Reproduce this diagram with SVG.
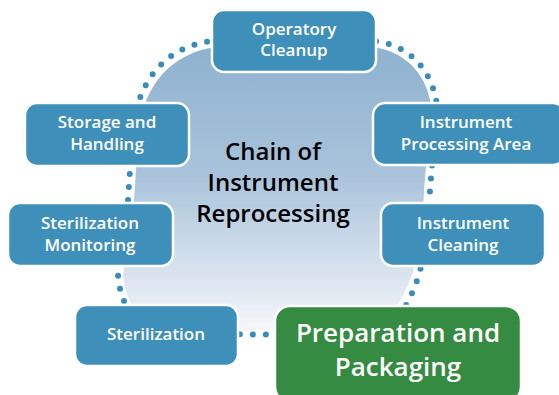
<svg xmlns="http://www.w3.org/2000/svg" width="559" height="395" viewBox="0 0 559 395">
<defs>
<linearGradient id="blobGrad" x1="0" y1="0" x2="0" y2="1">
<stop offset="0" stop-color="#8eb2cf"/>
<stop offset="0.45" stop-color="#a9c3db"/>
<stop offset="1" stop-color="#f4f6fa"/>
</linearGradient>
<style>
.box{fill:#3e8fba;stroke:#ffffff;stroke-width:2.5}
.green{fill:#358b41;stroke:#ffffff;stroke-width:2.5}
.lbl{font-family:"Open Sans","Liberation Sans",sans-serif;font-weight:600;font-size:17px;fill:#ffffff;text-anchor:middle}
.big{font-family:"Open Sans","Liberation Sans",sans-serif;font-weight:600;font-size:26px;fill:#ffffff;text-anchor:middle}
.title{font-family:"Open Sans","Liberation Sans",sans-serif;font-weight:600;font-size:24px;fill:#000000;text-anchor:middle}
.dots{fill:none;stroke:#3a8cba;stroke-width:6;stroke-linecap:round;stroke-dasharray:0 13}
</style>
</defs>
<g id="background">
<path d="M134,200 L138,140 C141,82 175,53 215,47 L372,47 C405,51 426,73 431,105 L424,190 C422,250 414,285 390,315 L380,330 L160,330 C135,318 125,298 123,275 Z" fill="url(#blobGrad)"/>
</g>
<g id="connectors">
<path class="dots" d="M128,200 L132,140 C135,76 170,46 212,41 L374,41 C410,45 432,70 437,105 L430,190 C428,250 420,285 400,315 L385,335 L160,334 C130,322 120,300 118,275 Z"/>
</g>
<g id="operatory-cleanup">
<rect class="box" x="212" y="10" width="164" height="62" rx="12"/>
<text class="lbl" x="294" y="35">Operatory</text>
<text class="lbl" x="294" y="56">Cleanup</text>
</g>
<g id="instrument-processing-area">
<rect class="box" x="373" y="103" width="192" height="62" rx="12"/>
<text class="lbl" x="466" y="128">Instrument</text>
<text class="lbl" x="466" y="150">Processing Area</text>
</g>
<g id="instrument-cleaning">
<rect class="box" x="381" y="203" width="164" height="63" rx="12"/>
<text class="lbl" x="463" y="229">Instrument</text>
<text class="lbl" x="463" y="251">Cleaning</text>
</g>
<g id="preparation-and-packaging">
<rect class="green" x="275" y="306" width="246" height="96" rx="15"/>
<text class="big" x="398" y="342">Preparation and</text>
<text class="big" x="398" y="376">Packaging</text>
</g>
<g id="sterilization">
<rect class="box" x="75" y="305" width="163" height="61" rx="12"/>
<text class="lbl" x="156" y="340">Sterilization</text>
</g>
<g id="sterilization-monitoring">
<rect class="box" x="8" y="203" width="165" height="63" rx="12"/>
<text class="lbl" x="90" y="229">Sterilization</text>
<text class="lbl" x="90" y="251">Monitoring</text>
</g>
<g id="storage-and-handling">
<rect class="box" x="25" y="103" width="164" height="63" rx="12"/>
<text class="lbl" x="107" y="128">Storage and</text>
<text class="lbl" x="107" y="150">Handling</text>
</g>
<g id="title">
<text class="title" x="273" y="160">Chain of</text>
<text class="title" x="273" y="191">Instrument</text>
<text class="title" x="273" y="222">Reprocessing</text>
</g>
</svg>
